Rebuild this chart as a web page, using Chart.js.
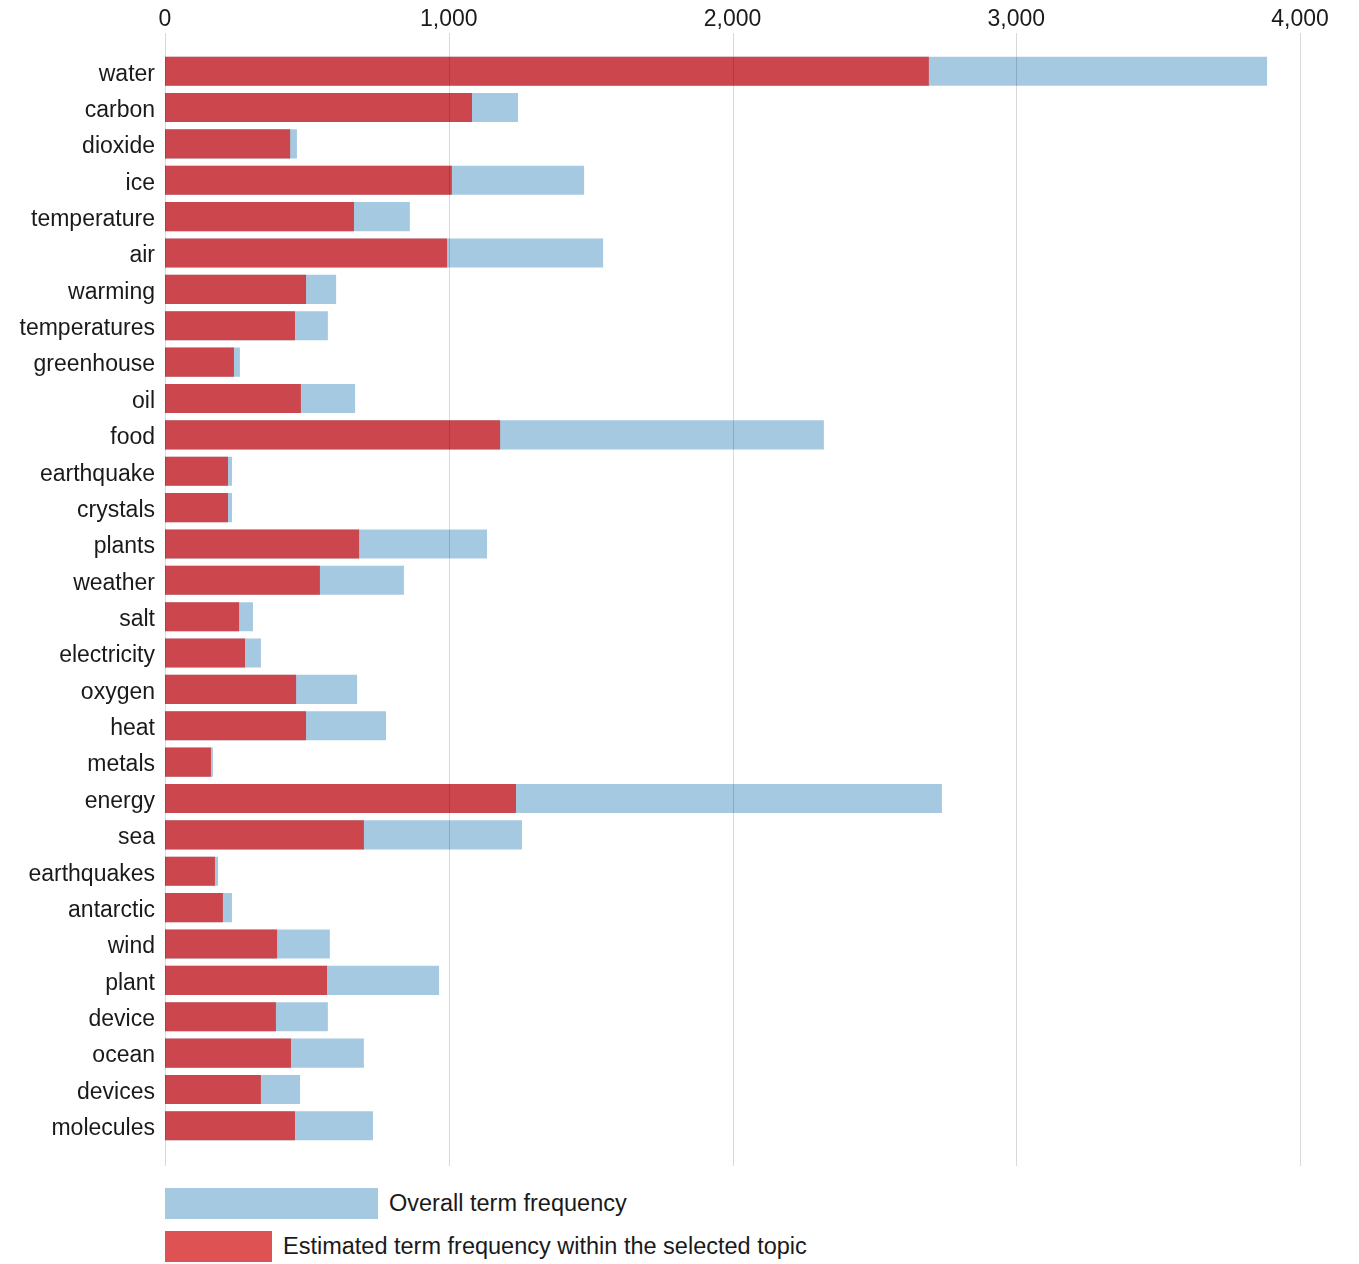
<!DOCTYPE html>
<html>
<head>
<meta charset="utf-8">
<script src="https://cdn.jsdelivr.net/npm/chart.js@4/dist/chart.umd.min.js"></script>
<style>
    body { margin: 0; background: #fff; font-family: "Liberation Sans", Arial, sans-serif; }
    #wrap { position: relative; width: 1359px; height: 1264px; }
    #chart-box { position: absolute; left: 0; top: 0; width: 1359px; height: 1180px; }
    .legend-row { position: absolute; left: 165px; display: flex; align-items: center; font-size: 23.5px; color: #1a1a1a; }
    .legend-row .swatch { height: 31px; margin-right: 11px; }
</style>
</head>
<body>
<div id="wrap">
    <div id="chart-box"><canvas id="termChart"></canvas></div>
    <div class="legend-row" style="top:1188px">
        <div class="swatch" style="width:213px;background:rgba(31,119,180,0.4)"></div>
        <span>Overall term frequency</span>
    </div>
    <div class="legend-row" style="top:1231px">
        <div class="swatch" style="width:107px;background:rgba(214,39,40,0.8)"></div>
        <span>Estimated term frequency within the selected topic</span>
    </div>
</div>
<script>
// terms, top to bottom
const terms = ['water', 'carbon', 'dioxide', 'ice', 'temperature', 'air', 'warming', 'temperatures',
    'greenhouse', 'oil', 'food', 'earthquake', 'crystals', 'plants', 'weather', 'salt', 'electricity',
    'oxygen', 'heat', 'metals', 'energy', 'sea', 'earthquakes', 'antarctic', 'wind', 'plant', 'device',
    'ocean', 'devices', 'molecules'];

// overall frequency (blue)
const overallFreq = [3884, 1244, 465, 1477, 863, 1544, 603, 574,
    264, 670, 2322, 236, 236, 1135, 842, 310, 338,
    677, 779, 169, 2738, 1258, 187, 236, 581, 966, 574,
    701, 476, 733];

// estimated frequency within topic (red)
const topicFreq = [2692, 1082, 441, 1011, 666, 994, 497, 458,
    243, 479, 1181, 222, 222, 684, 546, 261, 282,
    462, 497, 162, 1237, 701, 176, 204, 395, 571, 391,
    444, 338, 458];

const xTicks = [0, 1000, 2000, 3000, 4000];

const FONT = '"Liberation Sans", Arial, sans-serif';

// vertical grid lines drawn on top of the bars, a bit longer than the plot area
const gridOverlay = {
    id: 'gridOverlay',
    afterDatasetsDraw(chart) {
        const { ctx, chartArea, scales } = chart;
        ctx.save();
        ctx.strokeStyle = 'rgba(0,0,0,0.15)';
        ctx.lineWidth = 1;
        xTicks.forEach(v => {
            const px = Math.round(scales.x.getPixelForValue(v)) + 0.5;
            ctx.beginPath();
            ctx.moveTo(px, chartArea.top - 20);
            ctx.lineTo(px, chartArea.bottom + 22);
            ctx.stroke();
        });
        ctx.restore();
    }
};

const ctx = document.getElementById('termChart').getContext('2d');
new Chart(ctx, {
    type: 'bar',
    data: {
        labels: terms,
        datasets: [
            {
                label: 'Overall term frequency',
                data: overallFreq,
                backgroundColor: 'rgba(31,119,180,0.4)',
                grouped: false,
                order: 2
            },
            {
                label: 'Estimated term frequency within the selected topic',
                data: topicFreq,
                backgroundColor: 'rgba(214,39,40,0.8)',
                grouped: false,
                order: 1
            }
        ]
    },
    options: {
        indexAxis: 'y',
        responsive: true,
        maintainAspectRatio: false,
        animation: false,
        layout: { padding: { top: 6, right: 59, left: 0, bottom: 36 } },
        datasets: { bar: { barPercentage: 0.8, categoryPercentage: 1 } },
        plugins: { legend: { display: false }, tooltip: { enabled: false } },
        scales: {
            x: {
                position: 'top',
                min: 0,
                max: 4000,
                afterBuildTicks: s => { s.ticks = xTicks.map(v => ({ value: v })); },
                afterFit: s => { s.height = 47; },
                grid: { display: false, drawTicks: false },
                border: { display: false },
                ticks: {
                    color: '#1a1a1a',
                    padding: 20,
                    font: { family: FONT, size: 23 },
                    callback: v => v.toLocaleString('en-US')
                }
            },
            y: {
                grid: { display: false, drawTicks: false },
                border: { display: false },
                afterFit: s => { s.width = 165; },
                ticks: {
                    color: '#1a1a1a',
                    padding: 10,
                    labelOffset: 3,
                    font: { family: FONT, size: 23 }
                }
            }
        }
    },
    plugins: [gridOverlay]
});
</script>
</body>
</html>
